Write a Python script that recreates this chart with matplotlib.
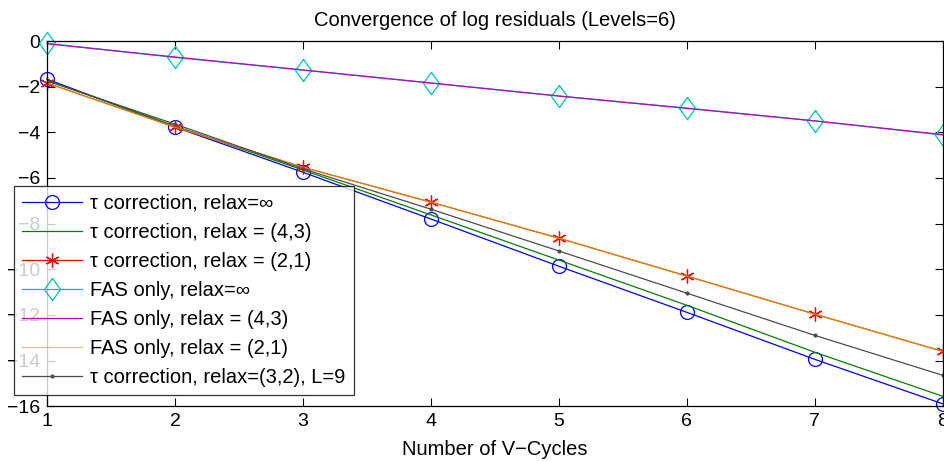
import numpy as np
import matplotlib
matplotlib.use("Agg")
import matplotlib.pyplot as plt

plt.rcParams['font.family'] = ['Liberation Sans', 'DejaVu Sans']

cycles = [1, 2, 3, 4, 5, 6, 7, 8]

# log residuals per V-cycle
tau_inf = [-1.67, -3.77, -5.75, -7.80, -9.87, -11.89, -13.95, -15.90]
tau_43 = [-1.72, -3.72, -5.65, -7.62, -9.60, -11.58, -13.64, -15.57]
tau_21 = [-1.84, -3.77, -5.53, -7.06, -8.64, -10.30, -11.97, -13.60]
fas_inf = [-0.10, -0.72, -1.27, -1.84, -2.41, -2.94, -3.50, -4.12]
fas_43 = [-0.12, -0.70, -1.27, -1.84, -2.41, -2.95, -3.50, -4.10]
fas_21 = [-1.84, -3.77, -5.53, -7.06, -8.64, -10.30, -11.97, -13.60]
tau_32_L9 = [-1.75, -3.64, -5.60, -7.37, -9.20, -11.05, -12.90, -14.65]

labels = [
    'τ correction, relax=∞',
    'τ correction, relax = (4,3)',
    'τ correction, relax = (2,1)',
    'FAS only, relax=∞',
    'FAS only, relax = (4,3)',
    'FAS only, relax = (2,1)',
    'τ correction, relax=(3,2), L=9',
]

# matlab-like diamond (a bit taller than wide)
diamond = [(0, 1), (0.72, 0), (0, -1), (-0.72, 0), (0, 1)]

fig = plt.figure(figsize=(9.45, 4.61), dpi=100)
ax = fig.add_axes([0.0497, 0.119, 0.948, 0.792])

ax.plot(cycles, tau_inf, color=(0, 0, 1), lw=0.9, marker='o', ms=10,
        mfc='none', mec=(0, 0, 1), mew=0.9, label=labels[0], clip_on=False)
ax.plot(cycles, tau_43, color=(0, 0.5, 0), lw=0.9, label=labels[1])
ax.plot(cycles, tau_21, color=(1, 0, 0), lw=0.9, marker=(6, 2, 0), ms=10,
        mew=0.9, label=labels[2], clip_on=False)
ax.plot(cycles, fas_inf, color=(0, 0.75, 0.75), lw=0.9, marker=diamond,
        ms=16, mfc='none', mew=0.9, label=labels[3], clip_on=False)
ax.plot(cycles, fas_43, color=(0.75, 0, 0.75), lw=0.9, label=labels[4])
ax.plot(cycles, fas_21, color=(0.75, 0.75, 0), lw=0.9, alpha=0.7,
        label=labels[5])
ax.plot(cycles, tau_32_L9, color=(0.3, 0.3, 0.3), lw=0.9, marker='.', ms=4,
        label=labels[6])

ax.set_xlim(1, 8)
ax.set_ylim(-16, 0)
ax.set_xticks(cycles)
ax.set_yticks(np.arange(-16, 1, 2))
ax.tick_params(direction='in', top=True, right=True, labelsize=14,
               length=6, width=0.8, pad=5)
for s in ax.spines.values():
    s.set_linewidth(0.9)

ax.set_title('Convergence of log residuals (Levels=6)', fontsize=14.5, pad=11)
ax.set_xlabel('Number of V\u2212Cycles', fontsize=14.5, labelpad=7)

leg = ax.legend(loc='lower left', bbox_to_anchor=(-0.037, 0.03), fontsize=14.5,
                frameon=True, fancybox=False, edgecolor='black',
                handlelength=3.0, labelspacing=0.5, borderpad=0.4,
                handletextpad=0.4, borderaxespad=0)
leg.get_frame().set_linewidth(0.9)
leg.set_zorder(5)

fig.savefig('out.png', dpi=100)
